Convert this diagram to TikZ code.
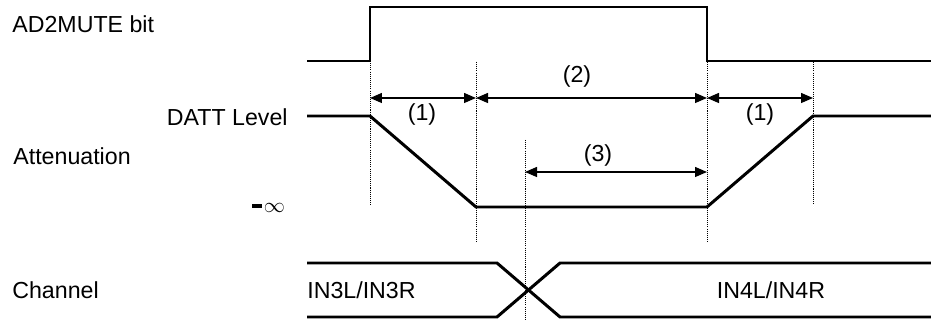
\documentclass[tikz,border=0pt]{standalone}
\usepackage{fontspec}
\setmainfont{Liberation Sans}
\usetikzlibrary{arrows.meta}

\begin{document}
\begin{tikzpicture}[
    x=0.02cm, y=-0.02cm,
    txt/.style={inner sep=0pt, font=\fontsize{13.2}{16}\selectfont},
    signal/.style={line width=1.7pt, line join=miter},
    guide/.style={line width=0.5pt, dash pattern=on 0.6pt off 0.6pt},
    span/.style={{Triangle[length=0.24cm,width=0.2cm]}-{Triangle[length=0.24cm,width=0.2cm]}, line width=0.75pt}
]
\useasboundingbox (0,0) rectangle (931,320);

% Row labels
\node[txt, anchor=west] (mutelbl) at (12,24) {AD2MUTE bit};
\node[txt, anchor=east] (dattlbl) at (288,117) {DATT Level};
\node[txt, anchor=west] (attlbl) at (13,156) {Attenuation};
\node[txt, anchor=west] (inflbl) at (252,208) {\rule[0.2em]{0.4em}{0.15em}\hspace{0.1em}$\infty$};
\node[txt, anchor=west] (chlbl) at (12,290) {Channel};

% AD2MUTE bit
\coordinate (m0) at (307,61);
\coordinate (m1) at (370,61);
\coordinate (m2) at (370,7);
\coordinate (m3) at (707,7);
\coordinate (m4) at (707,61);
\coordinate (m5) at (931,61);
\draw[signal] (m0) -- (m1) -- (m2) -- (m3) -- (m4) -- (m5);

% DATT level
\coordinate (d0) at (307,116);
\coordinate (d1) at (370,116);
\coordinate (d2) at (476,207);
\coordinate (d3) at (707,207);
\coordinate (d4) at (813,116);
\coordinate (d5) at (931,116);
\draw[signal] (d0) -- (d1) -- (d2) -- (d3) -- (d4) -- (d5);

% Channel
\coordinate (c0) at (307,263);
\coordinate (c1) at (497,263);
\coordinate (c2) at (560,317);
\coordinate (c3) at (931,317);
\coordinate (c4) at (307,317);
\coordinate (c5) at (497,317);
\coordinate (c6) at (560,263);
\coordinate (c7) at (931,263);
\draw[signal] (c0) -- (c1) -- (c2) -- (c3);
\draw[signal] (c4) -- (c5) -- (c6) -- (c7);
\node[txt, anchor=west] (in3) at (307,290) {IN3L/IN3R};
\node[txt] (in4) at (771,290) {IN4L/IN4R};

% Guides
\coordinate (g1a) at (370,61);  \coordinate (g1b) at (370,205);
\coordinate (g2a) at (476,62);  \coordinate (g2b) at (476,243);
\coordinate (g3a) at (707,62);  \coordinate (g3b) at (707,243);
\coordinate (g4a) at (813,62);  \coordinate (g4b) at (813,205);
\coordinate (g5a) at (525,140); \coordinate (g5b) at (525,320);
\foreach \g in {1,...,5}
    \draw[guide] (g\g a) -- (g\g b);

% Time spans
\coordinate (s1) at (370,98);
\coordinate (s2) at (476,98);
\coordinate (s3) at (707,98);
\coordinate (s4) at (813,98);
\coordinate (s5) at (525,172);
\coordinate (s6) at (707,172);
\draw[span] (s1) -- (s2);
\draw[span] (s2) -- (s3);
\draw[span] (s3) -- (s4);
\draw[span] (s5) -- (s6);
\node[txt] (p1a) at (422,115) {(1)};
\node[txt] (p2) at (577,77) {(2)};
\node[txt] (p1b) at (760,115) {(1)};
\node[txt] (p3) at (598,156) {(3)};

\end{tikzpicture}
\end{document}
